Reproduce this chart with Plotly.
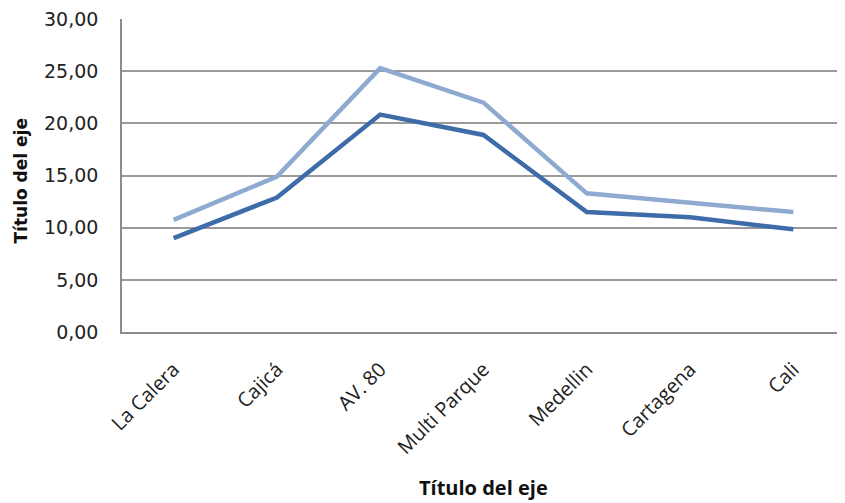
import plotly.graph_objects as go

categories = ["La Calera", "Cajicá", "AV. 80", "Multi Parque", "Medellin", "Cartagena", "Cali"]
serie_oscura = [9.0, 12.9, 20.85, 18.9, 11.5, 11.0, 9.85]
serie_clara = [10.75, 14.9, 25.3, 22.0, 13.3, 12.45, 11.5]
y_ticks = [0, 5, 10, 15, 20, 25, 30]

fig = go.Figure()
fig.add_trace(go.Scatter(x=categories, y=serie_clara, mode="lines",
                         line=dict(color="#8FAAD0", width=4.5), showlegend=False))
fig.add_trace(go.Scatter(x=categories, y=serie_oscura, mode="lines",
                         line=dict(color="#3E6CA8", width=4.5), showlegend=False))

# the page body has an 8px margin, so the figure is sized/placed to compensate
fig.update_layout(
    width=837, height=495,
    margin=dict(l=114, r=0, t=11, b=171),
    paper_bgcolor="white", plot_bgcolor="white",
    separators=",.",
    showlegend=False,
    xaxis=dict(
        type="category",
        range=[-0.5, 6.5],
        automargin=False,
        showgrid=False,
        showline=True, linecolor="#8c8c8c", linewidth=1.5,
        ticks="",
        tickangle=-45,
        tickfont=dict(family="Open Sans", size=20, color="#222"),
        ticklabelstandoff=16,
    ),
    yaxis=dict(
        range=[0, 30.02],
        automargin=False,
        tickvals=y_ticks,
        tickformat=".2f",
        ticklabeloverflow="allow",
        showgrid=True, gridcolor="#9a9a9a", gridwidth=1.5,
        showline=True, linecolor="#8c8c8c", linewidth=1.5,
        zeroline=False,
        ticks="",
        tickfont=dict(family="DejaVu Sans", size=19, color="#222"),
        ticklabelstandoff=18,
    ),
    annotations=[
        dict(text="<b>Título del eje</b>", xref="paper", yref="paper",
             x=0.5, y=0, yshift=-155, xanchor="center", yanchor="middle",
             showarrow=False,
             font=dict(family="Open Sans", size=20, color="#111")),
        dict(text="<b>Título del eje</b>", xref="paper", yref="paper",
             x=0, xshift=-102, y=0.5, yshift=-6, xanchor="center", yanchor="middle",
             textangle=-90, showarrow=False,
             font=dict(family="DejaVu Sans", size=17, color="#111")),
    ],
)

fig.write_html("out.html")
